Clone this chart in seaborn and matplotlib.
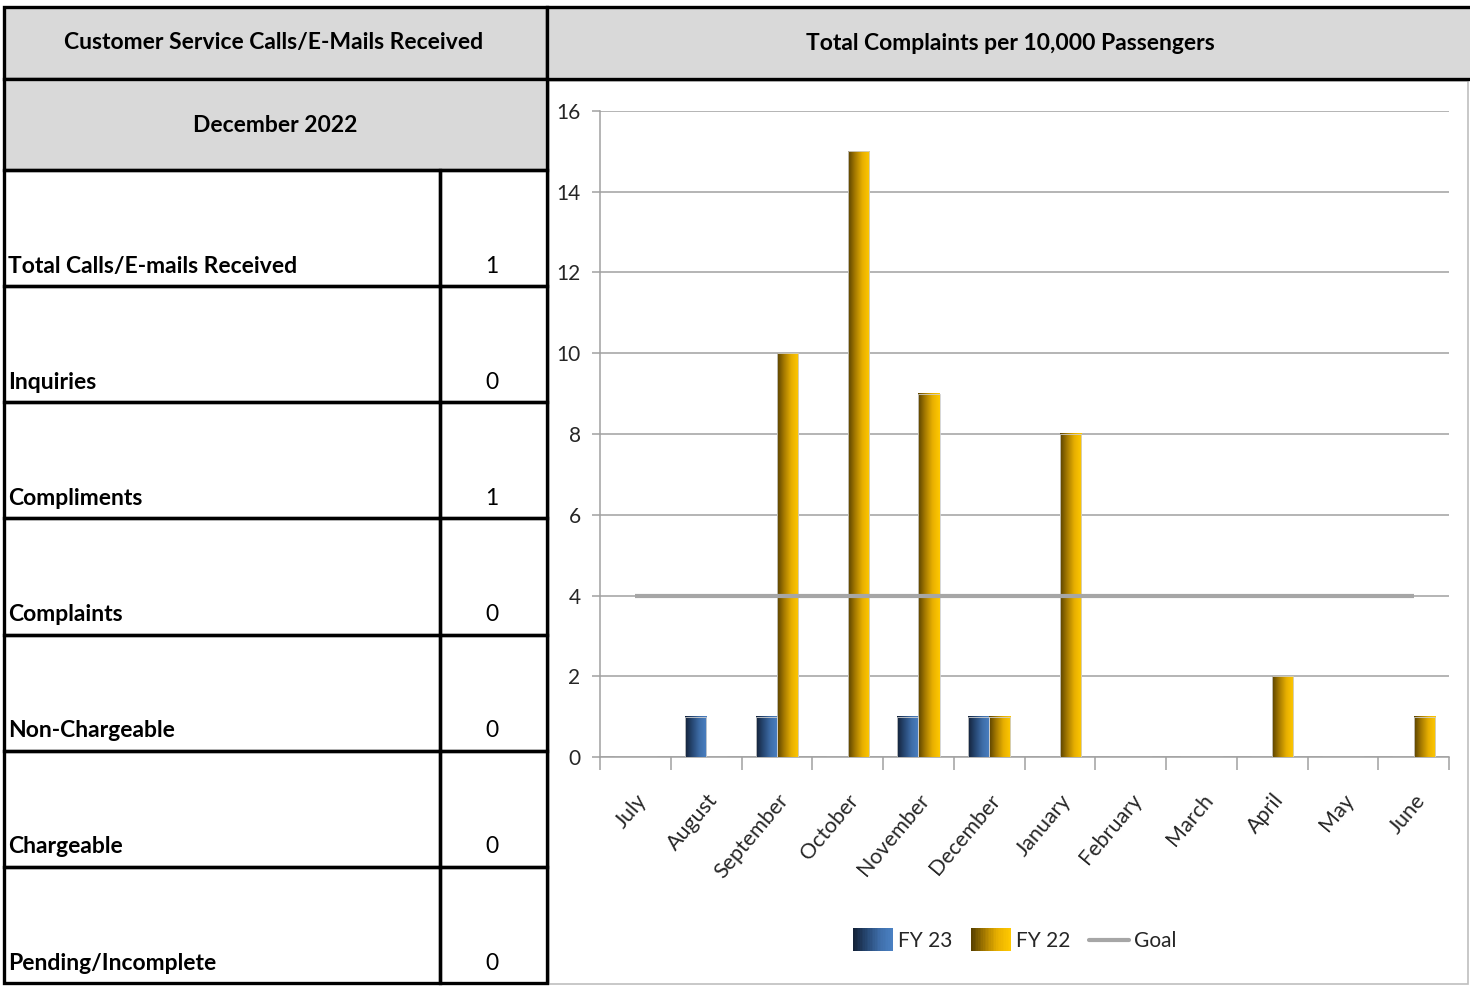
import numpy as np
import pandas as pd
import matplotlib
matplotlib.use("Agg")
import matplotlib.pyplot as plt
from matplotlib.colors import LinearSegmentedColormap
from matplotlib.patches import Rectangle
from matplotlib.lines import Line2D
from matplotlib.legend_handler import HandlerBase
import seaborn as sns

# ---- data ----
months = ["July", "August", "September", "October", "November", "December",
          "January", "February", "March", "April", "May", "June"]
fy23 = [0, 1, 1, 0, 1, 1, 0, 0, 0, 0, 0, 0]
fy22 = [0, 0, 10, 15, 9, 1, 8, 0, 0, 2, 0, 1]
goal = [4] * 12

table_title = "Customer Service Calls/E-Mails Received"
table_period = "December 2022"
row_labels = ["Total Calls/E-mails Received", "Inquiries", "Compliments",
              "Complaints", "Non-Chargeable", "Chargeable", "Pending/Incomplete"]
row_values = [1, 0, 1, 0, 0, 0, 0]
chart_title = "Total Complaints per 10,000 Passengers"
y_ticks = [0, 2, 4, 6, 8, 10, 12, 14, 16]

sns.set_theme(style="white")
FONT = ["Lato", "DejaVu Sans"]
plt.rcParams["font.family"] = FONT

W, H = 1470, 988
fig = plt.figure(figsize=(W / 100, H / 100), dpi=100)

# ---- background layer in pixel coordinates ----
bg = fig.add_axes([0, 0, 1, 1])
bg.set_xlim(0, W)
bg.set_ylim(H, 0)
bg.axis("off")

header_grey = "#D9D9D9"
lw_black = 2.4

def box(x0, y0, x1, y1, face="none", edge="black", lw=lw_black, z=1):
    bg.add_patch(Rectangle((x0, y0), x1 - x0, y1 - y0, facecolor=face,
                           edgecolor=edge, linewidth=lw, zorder=z))

# chart panel
box(549, 81, 1468, 984, face="white", edge="#BFBFBF", lw=1.2, z=0)
# headers
box(4, 7, 547, 79, face=header_grey)
box(547, 7, 1472, 79, face=header_grey)
box(4, 79, 547, 170, face=header_grey)

TXT = 16.5
bg.text(274, 43, table_title, ha="center", va="center", fontsize=TXT,
        fontweight="bold", color="black")
bg.text(1010, 43, chart_title, ha="center", va="center", fontsize=TXT,
        fontweight="bold", color="black")
bg.text(275, 126, table_period, ha="center", va="center", fontsize=TXT,
        fontweight="bold", color="black")

# table rows
row_top = 170
row_h = (983 - 170) / len(row_labels)
for i, (lab, val) in enumerate(zip(row_labels, row_values)):
    y0 = row_top + i * row_h
    y1 = y0 + row_h
    box(4, y0, 440, y1)
    box(440, y0, 547, y1)
    bg.text(8, y1 - 20, lab, ha="left", va="center", fontsize=TXT,
            fontweight="bold", color="black")
    bg.text(492, y1 - 20, str(val), ha="center", va="center", fontsize=TXT,
            color="black")

# ---- bar chart ----
ax = fig.add_axes([600 / W, (H - 757) / H, (1449 - 600) / W, (757 - 111) / H])
df = pd.DataFrame({
    "month": months * 2,
    "value": fy23 + fy22,
    "series": ["FY 23"] * 12 + ["FY 22"] * 12,
})
pal = {"FY 23": "#2E5A8E", "FY 22": "#E0A800"}
sns.barplot(data=df, x="month", y="value", hue="series", palette=pal,
            order=months, hue_order=["FY 23", "FY 22"], width=0.6,
            dodge=True, ax=ax, legend=False, saturation=1)

cmaps = {
    "FY 23": LinearSegmentedColormap.from_list("fy23", ["#14233A", "#274874", "#3E6DA8", "#4A80C2"]),
    "FY 22": LinearSegmentedColormap.from_list("fy22", ["#5A4200", "#A87C00", "#E8B000", "#FFC800"]),
}
grad = np.linspace(0, 1, 64).reshape(1, -1)
for cont, name in zip(ax.containers, ["FY 23", "FY 22"]):
    for bar in cont:
        h = bar.get_height()
        if h <= 0:
            continue
        x0, w = bar.get_x(), bar.get_width()
        ax.imshow(grad, cmap=cmaps[name], aspect="auto",
                  extent=[x0, x0 + w, 0, h], zorder=3, interpolation="bicubic")
        bar.set_facecolor("none")
        bar.set_edgecolor("#D0D0D0")
        bar.set_linewidth(0.6)
        bar.set_zorder(4)

ax.plot(range(len(months)), goal, color="#A6A6A6", lw=3, zorder=5,
        solid_capstyle="butt")

ax.set_xlim(-0.5, 11.5)
ax.set_ylim(0, 16)
ax.set_xlabel("")
ax.set_ylabel("")
ax.set_yticks(y_ticks)
ax.set_yticklabels([str(t) for t in y_ticks], fontsize=15)
ax.yaxis.grid(True, color="#A0A0A0", lw=1.1)
ax.set_axisbelow(True)
ax.set_xticks(range(len(months)))
ax.set_xticklabels(months, rotation=50, ha="right", rotation_mode="anchor",
                   fontsize=15.5)
ax.set_xticks(np.arange(-0.5, 12, 1), minor=True)
ax.tick_params(axis="x", which="major", length=0, pad=24)
ax.tick_params(axis="x", which="minor", length=9, width=1.1, color="#A0A0A0",
               direction="out", bottom=True)
ax.tick_params(axis="y", length=6, width=1.1, color="#A0A0A0", left=True,
               direction="out", pad=8)
for s in ["top", "right"]:
    ax.spines[s].set_visible(False)
for s in ["left", "bottom"]:
    ax.spines[s].set_color("#A0A0A0")
    ax.spines[s].set_linewidth(1.1)
ax.set_facecolor("none")


class GradientHandler(HandlerBase):
    def __init__(self, cmap):
        super().__init__()
        self.cmap = cmap

    def create_artists(self, legend, orig_handle, xdescent, ydescent, width,
                       height, fontsize, trans):
        n = 24
        arts = []
        for k in range(n):
            r = Rectangle((-xdescent + width * k / n, -ydescent - 3),
                          width / n + 0.3, height + 6,
                          facecolor=self.cmap(k / (n - 1)), edgecolor="none",
                          transform=trans)
            arts.append(r)
        return arts


h23 = Rectangle((0, 0), 1, 1)
h22 = Rectangle((0, 0), 1, 1)
hgoal = Line2D([], [], color="#A6A6A6", lw=3)
fig.legend([h23, h22, hgoal], ["FY 23", "FY 22", "Goal"],
           handler_map={h23: GradientHandler(cmaps["FY 23"]),
                        h22: GradientHandler(cmaps["FY 22"])},
           loc="center", bbox_to_anchor=(1015 / W, (H - 941) / H), ncol=3,
           frameon=False, fontsize=15, handlelength=1.9, handletextpad=0.25,
           columnspacing=0.9)

fig.savefig("out.png", dpi=100)
